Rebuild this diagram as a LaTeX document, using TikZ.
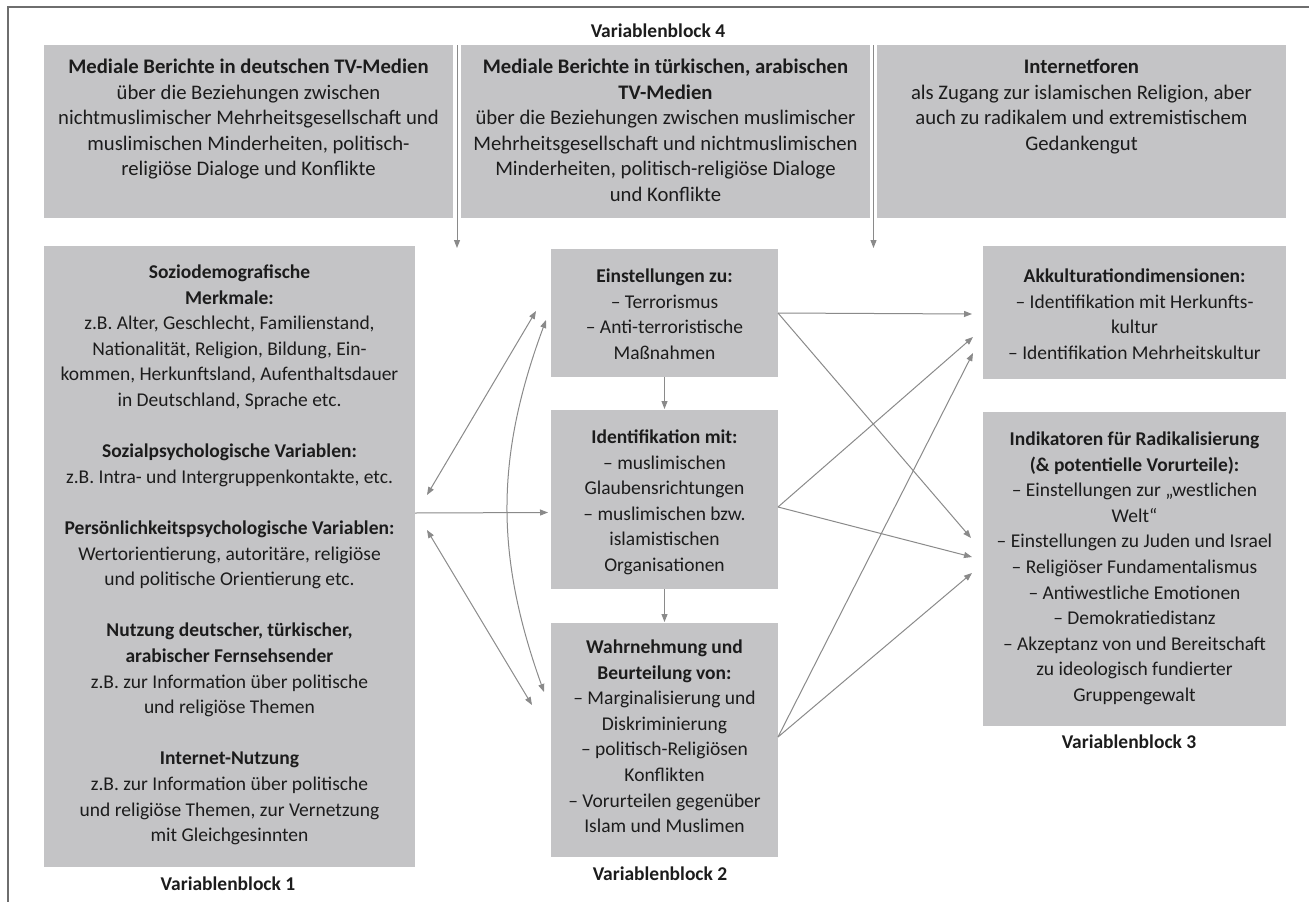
\documentclass[tikz,border=0pt]{standalone}
\usepackage{fontspec}
\setmainfont{Carlito}
\usetikzlibrary{arrows.meta,calc}
\definecolor{boxgray}{RGB}{196,196,198}
\definecolor{arrgray}{RGB}{138,138,138}
\definecolor{framegray}{RGB}{110,110,110}
\definecolor{txt}{RGB}{28,28,28}
\begin{document}
\begin{tikzpicture}[x=1pt,y=-1pt,
  box/.style={fill=boxgray,draw=none,inner sep=0pt,outer sep=0pt,anchor=north west},
  txtA/.style={anchor=base,align=center,inner sep=0pt,text=txt,font=\fontsize{19.5}{25.6}\selectfont},
  txtT/.style={anchor=base,align=center,inner sep=0pt,text=txt,font=\fontsize{20.7}{25.5}\selectfont},
  lbl/.style={anchor=base,inner sep=0pt,text=txt,font=\fontsize{19.5}{24}\selectfont\bfseries},
  arr/.style={draw=arrgray,line width=1pt,-{Triangle[length=8pt,width=6pt]}},
  darr/.style={draw=arrgray,line width=1pt,{Triangle[length=8pt,width=6pt]}-{Triangle[length=8pt,width=6pt]}},
]
\useasboundingbox (0,0) rectangle (1309,902);
\fill[white] (0,0) rectangle (1309,902);
% frame
\draw[framegray,line width=1.2pt] (1309,7) -- (8,7) -- (8,902);

% boxes
\node[box,minimum width=409pt,minimum height=173pt] (T1) at (44,45) {};
\node[box,minimum width=409pt,minimum height=173pt] (T2) at (461,45) {};
\node[box,minimum width=409pt,minimum height=173pt] (T3) at (877,45) {};
\node[box,minimum width=371pt,minimum height=621pt] (L) at (44,246) {};
\node[box,minimum width=227pt,minimum height=128pt] (A) at (551,249) {};
\node[box,minimum width=227pt,minimum height=179pt] (B) at (551,410) {};
\node[box,minimum width=227pt,minimum height=234pt] (C) at (551,623) {};
\node[box,minimum width=303pt,minimum height=133pt] (D) at (983,246) {};
\node[box,minimum width=303pt,minimum height=314pt] (E) at (983,412) {};

% top arrows
\coordinate (g1) at ($(T1.north east)!0.5!(T2.north west)$);
\coordinate (g1e) at ($(g1)+(0,203)$);
\draw[arr] (g1) -- (g1e);
\coordinate (g2) at ($(T2.north east)!0.5!(T3.north west)$);
\coordinate (g2e) at ($(g2)+(0,203)$);
\draw[arr] (g2) -- (g2e);

% left connectors
\draw[darr] ($(L.north east)+(12,249)$) -- ($(A.west)+(-15,-2)$);
\draw[darr] ($(A.west)+(-5,7)$) to[bend right=20] ($(C.west)+(-7,-48)$);
\draw[darr] ($(L.north east)+(12,284)$) -- ($(C.west)+(-19,-35)$);
\draw[arr] ($(L.north east)+(0,267)$) -- ($(B.west)+(-3,13)$);

% middle connectors
\draw[arr,shorten >=1pt] (A.south) -- (B.north);
\draw[arr,shorten >=1pt] (B.south) -- (C.north);

% right connectors
\draw[arr] (A.east) -- ($(D.west)+(-11,1.5)$);
\draw[arr] (A.east) -- ($(E.west)+(-12,-31)$);
\draw[arr] ($(B.east)+(0,7.5)$) -- ($(D.west)+(-10,24.5)$);
\draw[arr] ($(B.east)+(0,7.5)$) -- ($(E.west)+(-11,-12)$);
\draw[arr] ($(C.east)+(0,-3)$) -- ($(D.west)+(-10,40.5)$);
\draw[arr] ($(C.east)+(0,-3)$) -- ($(E.west)+(-11,4)$);

% texts (anchor=base is the baseline of the last line)
\node[lbl] (vb4) at (658,37.5) {Variablenblock 4};
\node[lbl] (vb1) at (228,890.5) {Variablenblock 1};
\node[lbl] (vb2) at (660,880.5) {Variablenblock 2};
\node[lbl] (vb3) at (1129,748.5) {Variablenblock 3};

\node[txtT] (T1t) at (248.5,175.5) {\textbf{Mediale Berichte in deutschen TV-Medien}\\
über die Beziehungen zwischen\\
nichtmuslimischer Mehrheitsgesellschaft und\\
muslimischen Minderheiten, politisch-\\
religiöse Dialoge und Konflikte};
\node[txtT] (T2t) at (665.5,201) {\textbf{Mediale Berichte in türkischen, arabischen}\\
\textbf{TV-Medien}\\
über die Beziehungen zwischen muslimischer\\
Mehrheitsgesellschaft und nichtmuslimischen\\
Minderheiten, politisch-religiöse Dialoge\\
und Konflikte};
\node[txtT] (T3t) at (1081.5,150) {\textbf{Internetforen}\\
als Zugang zur islamischen Religion, aber\\
auch zu radikalem und extremistischem\\
Gedankengut};

\node[txtA] (Lt) at (229.5,841.7) {\textbf{Soziodemografische}\\
\textbf{Merkmale:}\\
z.B. Alter, Geschlecht, Familienstand,\\
Nationalität, Religion, Bildung, Ein-\\
kommen, Herkunftsland, Aufenthaltsdauer\\
in Deutschland, Sprache etc.\\[25.6pt]
\textbf{Sozialpsychologische Variablen:}\\
z.B. Intra- und Intergruppenkontakte, etc.\\[25.6pt]
\textbf{Persönlichkeitspsychologische Variablen:}\\
Wertorientierung, autoritäre, religiöse\\
und politische Orientierung etc.\\[25.6pt]
\textbf{Nutzung deutscher, türkischer,}\\
\textbf{arabischer Fernsehsender}\\
z.B. zur Information über politische\\
und religiöse Themen\\[25.6pt]
\textbf{Internet-Nutzung}\\
z.B. zur Information über politische\\
und religiöse Themen, zur Vernetzung\\
mit Gleichgesinnten};

\node[txtA] (At) at (664.5,359.3) {\textbf{Einstellungen zu:}\\
– Terrorismus\\
– Anti-terroristische\\
Maßnahmen};
\node[txtA] (Bt) at (664.5,571.5) {\textbf{Identifikation mit:}\\
– muslimischen\\
Glaubensrichtungen\\
– muslimischen bzw.\\
islamistischen\\
Organisationen};
\node[txtA] (Ct) at (664.5,832.7) {\textbf{Wahrnehmung und}\\
\textbf{Beurteilung von:}\\
– Marginalisierung und\\
Diskriminierung\\
– politisch-Religiösen\\
Konflikten\\
– Vorurteilen gegenüber\\
Islam und Muslimen};

\node[txtA] (Dt) at (1134.5,359.3) {\textbf{Akkulturationdimensionen:}\\
– Identifikation mit Herkunfts-\\
kultur\\
– Identifikation Mehrheitskultur};
\node[txtA] (Et) at (1134.5,701.5) {\textbf{Indikatoren für Radikalisierung}\\
\textbf{(\& potentielle Vorurteile):}\\
– Einstellungen zur „westlichen\\
Welt“\\
– Einstellungen zu Juden und Israel\\
– Religiöser Fundamentalismus\\
– Antiwestliche Emotionen\\
– Demokratiedistanz\\
– Akzeptanz von und Bereitschaft\\
zu ideologisch fundierter\\
Gruppengewalt};
\end{tikzpicture}
\end{document}
